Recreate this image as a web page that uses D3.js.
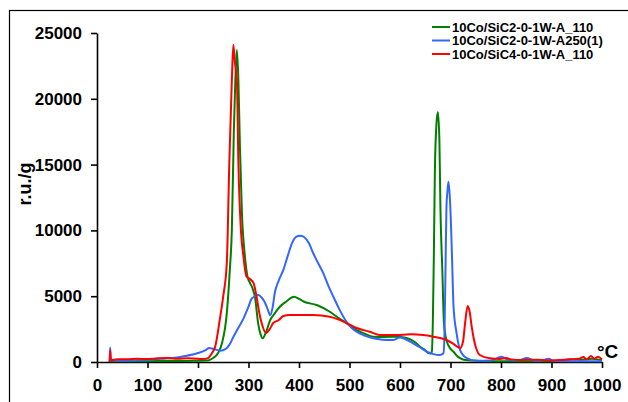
<!DOCTYPE html>
<html>
<head>
<meta charset="utf-8">
<script src="https://cdn.jsdelivr.net/npm/d3@7"></script>
<style>
  html, body { margin: 0; padding: 0; background: #fff; }
  svg { display: block; }
  text { font-family: "Liberation Sans", Arial, sans-serif; font-weight: bold; fill: #000; }
</style>
</head>
<body>
<svg id="chart" width="628" height="402"></svg>
<script>
// ---- Data ----
const seriesNames = ["10Co/SiC2-0-1W-A_110", "10Co/SiC2-0-1W-A250(1)", "10Co/SiC4-0-1W-A_110"];
const seriesColors = ["#008000", "#3366ff", "#ff0000"];

const xTicks = [0, 100, 200, 300, 400, 500, 600, 700, 800, 900, 1000];
const yTicks = [0, 5000, 10000, 15000, 20000, 25000];

// Series 1: 10Co/SiC2-0-1W-A_110 (green)
const greenT = [25, 50, 100, 150, 200, 220, 230, 240, 248, 257, 263, 267, 271, 274, 277, 280, 283, 287, 293, 298, 303, 308, 313, 319, 324, 328, 335, 343, 352, 362, 375, 390, 400, 410, 435, 461, 480, 494, 514, 530, 547, 570, 593, 613, 630, 640, 650, 656, 660, 663, 665, 667, 669, 672, 675, 678, 680, 684, 687, 692, 700, 706, 712, 719, 730, 760, 800, 850, 900, 920, 940, 960, 980, 990, 1000];
const greenV = [50, 50, 60, 80, 100, 120, 300, 700, 1500, 3700, 7000, 10000, 17600, 21500, 23700, 21400, 16400, 11300, 8000, 6500, 6000, 5600, 4900, 2960, 2100, 1800, 2300, 3190, 3700, 4200, 4600, 4960, 4800, 4580, 4330, 3820, 3300, 2960, 2430, 2150, 1920, 1900, 1920, 1820, 1500, 1160, 900, 680, 650, 780, 3000, 8000, 14300, 18000, 19000, 16900, 11800, 6760, 2960, 1670, 1000, 780, 500, 300, 150, 80, 60, 50, 60, 120, 200, 180, 250, 200, 150];

// Series 2: 10Co/SiC2-0-1W-A250(1) (blue)
const blueT = [25, 26, 27, 29, 35, 50, 75, 100, 125, 150, 175, 200, 215, 222, 230, 244, 255, 262, 270, 280, 290, 300, 306, 313, 320, 326, 333, 338, 343, 348, 352, 360, 369, 378, 386, 395, 402, 410, 420, 428, 438, 448, 458, 468, 480, 494, 504, 514, 530, 547, 565, 587, 600, 610, 626, 640, 653, 666, 679, 686, 688, 690, 692, 694, 696, 699, 703, 706, 712, 719, 732, 752, 780, 801, 815, 835, 851, 865, 880, 894, 905, 950, 1000];
const blueV = [0, 1100, 400, 150, 100, 100, 120, 150, 250, 300, 450, 680, 900, 1060, 1000, 860, 1000, 1300, 1900, 2600, 3300, 4200, 4800, 5000, 5090, 4900, 4480, 4000, 3570, 4200, 5240, 6200, 7000, 8100, 9020, 9520, 9600, 9500, 9000, 8280, 7500, 6760, 5800, 4960, 4000, 3060, 2600, 2300, 2000, 1800, 1700, 1670, 1870, 1750, 1420, 1100, 780, 600, 530, 660, 2000, 6760, 11800, 13000, 13700, 12300, 8000, 4200, 2200, 910, 300, 100, 120, 400, 150, 130, 300, 120, 100, 250, 80, 60, 50];

// Series 3: 10Co/SiC4-0-1W-A_110 (red)
const redT = [25, 26, 27, 29, 40, 60, 80, 100, 120, 140, 160, 180, 200, 210, 220, 228, 234, 243, 250, 257, 262, 267, 270, 273, 277, 280, 285, 290, 296, 303, 310, 316, 321, 326, 335, 342, 349, 360, 369, 382, 400, 428, 461, 480, 494, 514, 540, 560, 593, 620, 646, 666, 692, 705, 719, 725, 729, 734, 738, 742, 747, 752, 758, 778, 798, 810, 820, 840, 860, 880, 900, 920, 940, 955, 963, 970, 978, 985, 992, 1000];
const redV = [0, 900, 300, 150, 200, 200, 250, 220, 280, 300, 250, 280, 250, 220, 300, 700, 1160, 3190, 5000, 7500, 15100, 21400, 24100, 22800, 21400, 15100, 10000, 8000, 6500, 6300, 6000, 4960, 3800, 2960, 2200, 2500, 2960, 3190, 3500, 3570, 3570, 3570, 3440, 3200, 2960, 2580, 2300, 2050, 2050, 2100, 2050, 1920, 1670, 1400, 1060, 1600, 3000, 4260, 3800, 2690, 1600, 910, 530, 280, 230, 300, 200, 150, 180, 150, 120, 150, 200, 250, 380, 200, 450, 250, 400, 200];

const xTitle = "°C";
const yTitle = "r.u./g";

// ---- Drawing ----
const svg = d3.select("#chart");

// outer frame
svg.append("rect")
  .attr("x", 9.5).attr("y", 10.5)
  .attr("width", 700).attr("height", 500)
  .attr("fill", "none").attr("stroke", "#000").attr("stroke-width", 1.2);

const x = d3.scaleLinear().domain([0, 1000]).range([97, 602]);
const y = d3.scaleLinear().domain([0, 25000]).range([362, 33]);

const series = [
  { name: seriesNames[0], color: seriesColors[0], t: greenT, v: greenV },
  { name: seriesNames[1], color: seriesColors[1], t: blueT, v: blueV },
  { name: seriesNames[2], color: seriesColors[2], t: redT, v: redV }
];

const line = d3.line()
  .x(d => x(d[0]))
  .y(d => y(d[1]))
  .curve(d3.curveMonotoneX);

// axes
const fmt = d3.format("d");
const yAxis = svg.append("g")
  .attr("transform", `translate(${x(0)},0)`)
  .call(d3.axisLeft(y).tickValues(yTicks).tickFormat(fmt).tickSize(6).tickPadding(9).tickSizeOuter(0));
const xAxis = svg.append("g")
  .attr("transform", `translate(0,${y(0)})`)
  .call(d3.axisBottom(x).tickValues(xTicks).tickFormat(fmt).tickSize(6).tickPadding(11).tickSizeOuter(0));

[xAxis, yAxis].forEach(g => {
  g.select(".domain").attr("stroke", "#000").attr("stroke-width", 1.6);
  g.selectAll(".tick line").attr("stroke", "#000").attr("stroke-width", 1.6);
  g.selectAll(".tick text")
    .attr("font-family", "Liberation Sans, Arial, sans-serif")
    .attr("font-weight", "bold")
    .attr("font-size", 17)
    .attr("fill", "#000");
});

// lines
series.forEach(s => {
  svg.append("path")
    .datum(s.t.map((t, i) => [t, s.v[i]]))
    .attr("fill", "none")
    .attr("stroke", s.color)
    .attr("stroke-width", 2)
    .attr("stroke-linejoin", "round")
    .attr("d", line);
});

// axis titles
svg.append("text")
  .attr("transform", "translate(31,184) rotate(-90)")
  .attr("text-anchor", "middle")
  .attr("font-size", 18)
  .text(yTitle);
svg.append("text")
  .attr("x", 597).attr("y", 358)
  .attr("font-size", 19)
  .text(xTitle);

// legend
const legend = svg.append("g");
series.forEach((s, i) => {
  const yy = 27 + i * 13.5;
  legend.append("line")
    .attr("x1", 432).attr("x2", 450)
    .attr("y1", yy).attr("y2", yy)
    .attr("stroke", s.color).attr("stroke-width", 2);
  legend.append("text")
    .attr("x", 452).attr("y", yy + 4.5)
    .attr("font-size", 13)
    .text(s.name);
});
</script>
</body>
</html>
